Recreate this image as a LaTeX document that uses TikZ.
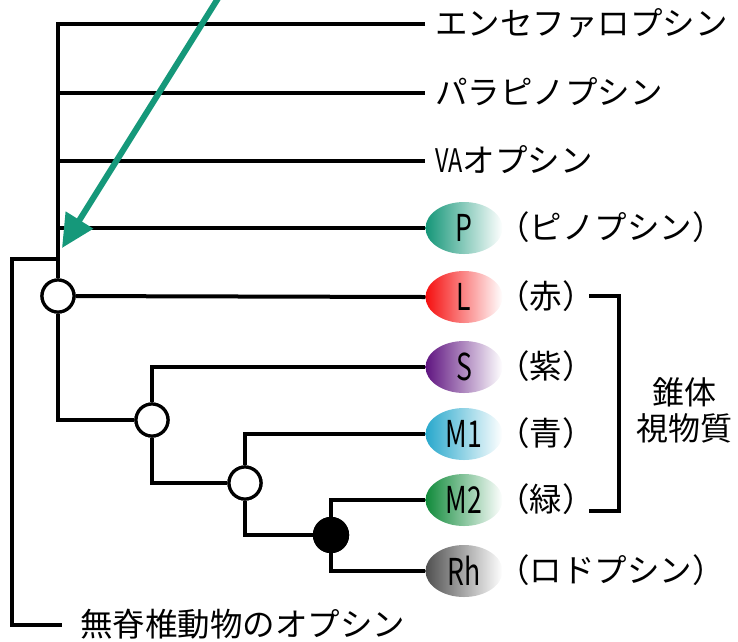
\documentclass[tikz,border=0pt]{standalone}
\usepackage{fontspec}
\setmainfont{Noto Sans CJK JP}
\usetikzlibrary{arrows.meta,shapes.geometric}
\definecolor{arrowteal}{RGB}{21,152,122}
\definecolor{cP}{RGB}{20,150,120}
\definecolor{cL}{RGB}{245,15,15}
\definecolor{cS}{RGB}{95,20,128}
\definecolor{cMa}{RGB}{40,168,204}
\definecolor{cMb}{RGB}{16,138,58}
\definecolor{cRh}{RGB}{80,80,80}
\tikzset{
  tree/.style={line width=4pt},
  lab/.style={anchor=west,inner xsep=10pt,inner ysep=0pt,font=\fontsize{32.5}{36}\selectfont,text height=26pt,text depth=3pt},
  opsin/.style={ellipse,minimum width=77pt,minimum height=52pt,inner sep=0pt,shading=axis,left color=#1,right color=white,shading angle=90,font=\fontsize{37}{37}\selectfont},
  anc/.style={circle,draw,line width=3.2pt,fill=white,minimum size=32pt,inner sep=0pt},
  ancdup/.style={circle,draw,line width=3.2pt,fill=black,minimum size=33pt,inner sep=0pt},
  cone/.style={align=center,font=\fontsize{32}{36}\selectfont}
}
\newcommand{\narrow}[1]{\scalebox{0.72}[1]{#1}}
\begin{document}
\begin{tikzpicture}[x=1pt,y=-1pt]
\useasboundingbox (0,0) rectangle (738,641);
% ancestral nodes
\node[anc] (c1) at (58,296) {};
\node[anc] (c2) at (152,420) {};
\node[anc] (c3) at (245,483) {};
\node[ancdup] (c4) at (331,535) {};
% opsin ellipses
\node[opsin=cP] (eP) at (464,228) {\narrow{P}};
\node[opsin=cL] (eL) at (464,297) {\narrow{L}};
\node[opsin=cS] (eS) at (464,367) {\narrow{S}};
\node[opsin=cMa] (eMa) at (464,434) {\narrow{M1}};
\node[opsin=cMb] (eMb) at (464,500) {\narrow{M2}};
\node[opsin=cRh] (eRh) at (464,571) {\narrow{Rh}};
% labels
\node[lab] (n1) at (425,24) {エンセファロプシン};
\node[lab] (n2) at (425,93) {パラピノプシン};
\node[lab] (n3) at (425,161) {\narrow{VA}オプシン};
\node[lab,inner xsep=0pt] (lP) at (497,228) {（ピノプシン）};
\node[lab,inner xsep=0pt] (lL) at (497,297) {（赤）};
\node[lab,inner xsep=0pt] (lS) at (497,367) {（紫）};
\node[lab,inner xsep=0pt] (lMa) at (497,434) {（青）};
\node[lab,inner xsep=0pt] (lMb) at (497,500) {（緑）};
\node[lab,inner xsep=0pt] (lRh) at (497,571) {（ロドプシン）};
\node[lab,inner xsep=18pt] (og) at (62,625) {無脊椎動物のオプシン};
\node[cone] (cone) at (684,410) {錐体\\視物質};
% tree
\draw[tree] (n1.west) -| (c1.north);
\draw[tree] (c1.north |- n2.west) -- (n2.west);
\draw[tree] (c1.north |- n3.west) -- (n3.west);
\draw[tree] (c1.north |- eP.west) -- (eP.west);
\draw[tree] (c1) -- (eL.west);
\draw[tree] (c1.south) |- (c2.west);
\draw[tree] (c2.north) |- (eS.west);
\draw[tree] (c2.south) |- (c3.west);
\draw[tree] (c3.north) |- (eMa.west);
\draw[tree] (c3.south) |- (c4.west);
\draw[tree] (c4.north) |- (eMb.west);
\draw[tree] (c4.south) |- (eRh.west);
% outgroup
\coordinate (ogc) at (12,259);
\draw[tree] (c1.north |- ogc) -- (ogc) |- (og.west);
% bracket
\coordinate (bt) at (589,296);
\coordinate (bc) at (619,296);
\coordinate (bb) at (589,511);
\draw[tree] (bt) -- (bc) |- (bb);
% redraw nodes on top
\node[anc] at (c1) {};
\node[anc] at (c2) {};
\node[anc] at (c3) {};
\node[ancdup] at (c4) {};
% arrow
\coordinate (as) at (222,-8);
\coordinate (at) at (62,248);
\draw[line width=6pt,arrowteal,-{Triangle[length=33pt,width=31pt]}] (as) -- (at);
\end{tikzpicture}
\end{document}
